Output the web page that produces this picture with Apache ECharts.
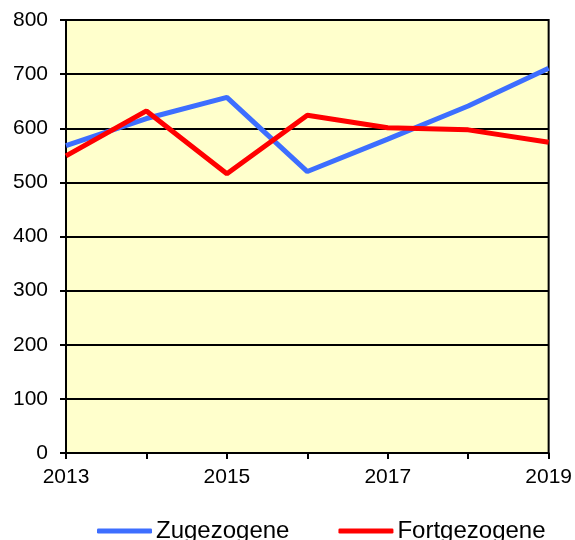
<!DOCTYPE html>
<html>
<head>
<meta charset="utf-8">
<script src="https://cdn.jsdelivr.net/npm/echarts@6/dist/echarts.min.js"></script>
<style>
  html, body { margin: 0; padding: 0; background: #fff; }
  #chart { width: 575px; height: 540px; }
</style>
</head>
<body>
<div id="chart"></div>
<script>
  // Jahre und Werte
  var years = ['2013', '2014', '2015', '2016', '2017', '2018', '2019'];
  var zugezogene = [568, 618, 657, 520, 580, 641, 711];
  var fortgezogene = [549, 632, 516, 624, 601, 597, 574];
  var yTicks = [0, 100, 200, 300, 400, 500, 600, 700, 800];

  var myChart = echarts.init(document.getElementById('chart'));
  var option = {
    animation: false,
    textStyle: { fontFamily: 'Liberation Sans, Arial, sans-serif' },
    grid: {
      left: 66,
      right: 24,
      top: 20,
      bottom: 87,
      show: true,
      backgroundColor: '#FFFFCC',
      borderColor: '#000',
      borderWidth: 2
    },
    legend: {
      bottom: -8,
      left: 92,
      itemWidth: 55,
      itemHeight: 5,
      itemGap: 49,
      icon: 'roundRect',
      textStyle: { fontSize: 24, color: '#000', padding: [0, 0, 0, -1] },
      data: ['Zugezogene', 'Fortgezogene']
    },
    xAxis: {
      type: 'category',
      boundaryGap: false,
      data: years,
      axisLine: { lineStyle: { color: '#000', width: 2 } },
      axisTick: { show: true, interval: 0, length: 6, lineStyle: { color: '#000', width: 2 } },
      axisLabel: { interval: 1, color: '#000', fontSize: 21, margin: 14 },
      splitLine: { show: false }
    },
    yAxis: {
      type: 'value',
      min: yTicks[0],
      max: yTicks[yTicks.length - 1],
      interval: 100,
      axisLine: { show: true, lineStyle: { color: '#000', width: 2 } },
      axisTick: { show: true, length: 6, lineStyle: { color: '#000', width: 2 } },
      axisLabel: { color: '#000', fontSize: 21, margin: 18 },
      splitLine: { show: true, lineStyle: { color: '#000', width: 2 } }
    },
    series: [
      {
        name: 'Zugezogene',
        type: 'line',
        data: zugezogene,
        symbol: 'none',
        color: '#3D6EFF',
        lineStyle: { width: 5, color: '#3D6EFF' }
      },
      {
        name: 'Fortgezogene',
        type: 'line',
        data: fortgezogene,
        symbol: 'none',
        color: '#FF0000',
        lineStyle: { width: 5, color: '#FF0000' }
      }
    ]
  };
  myChart.setOption(option, true);
</script>
</body>
</html>
